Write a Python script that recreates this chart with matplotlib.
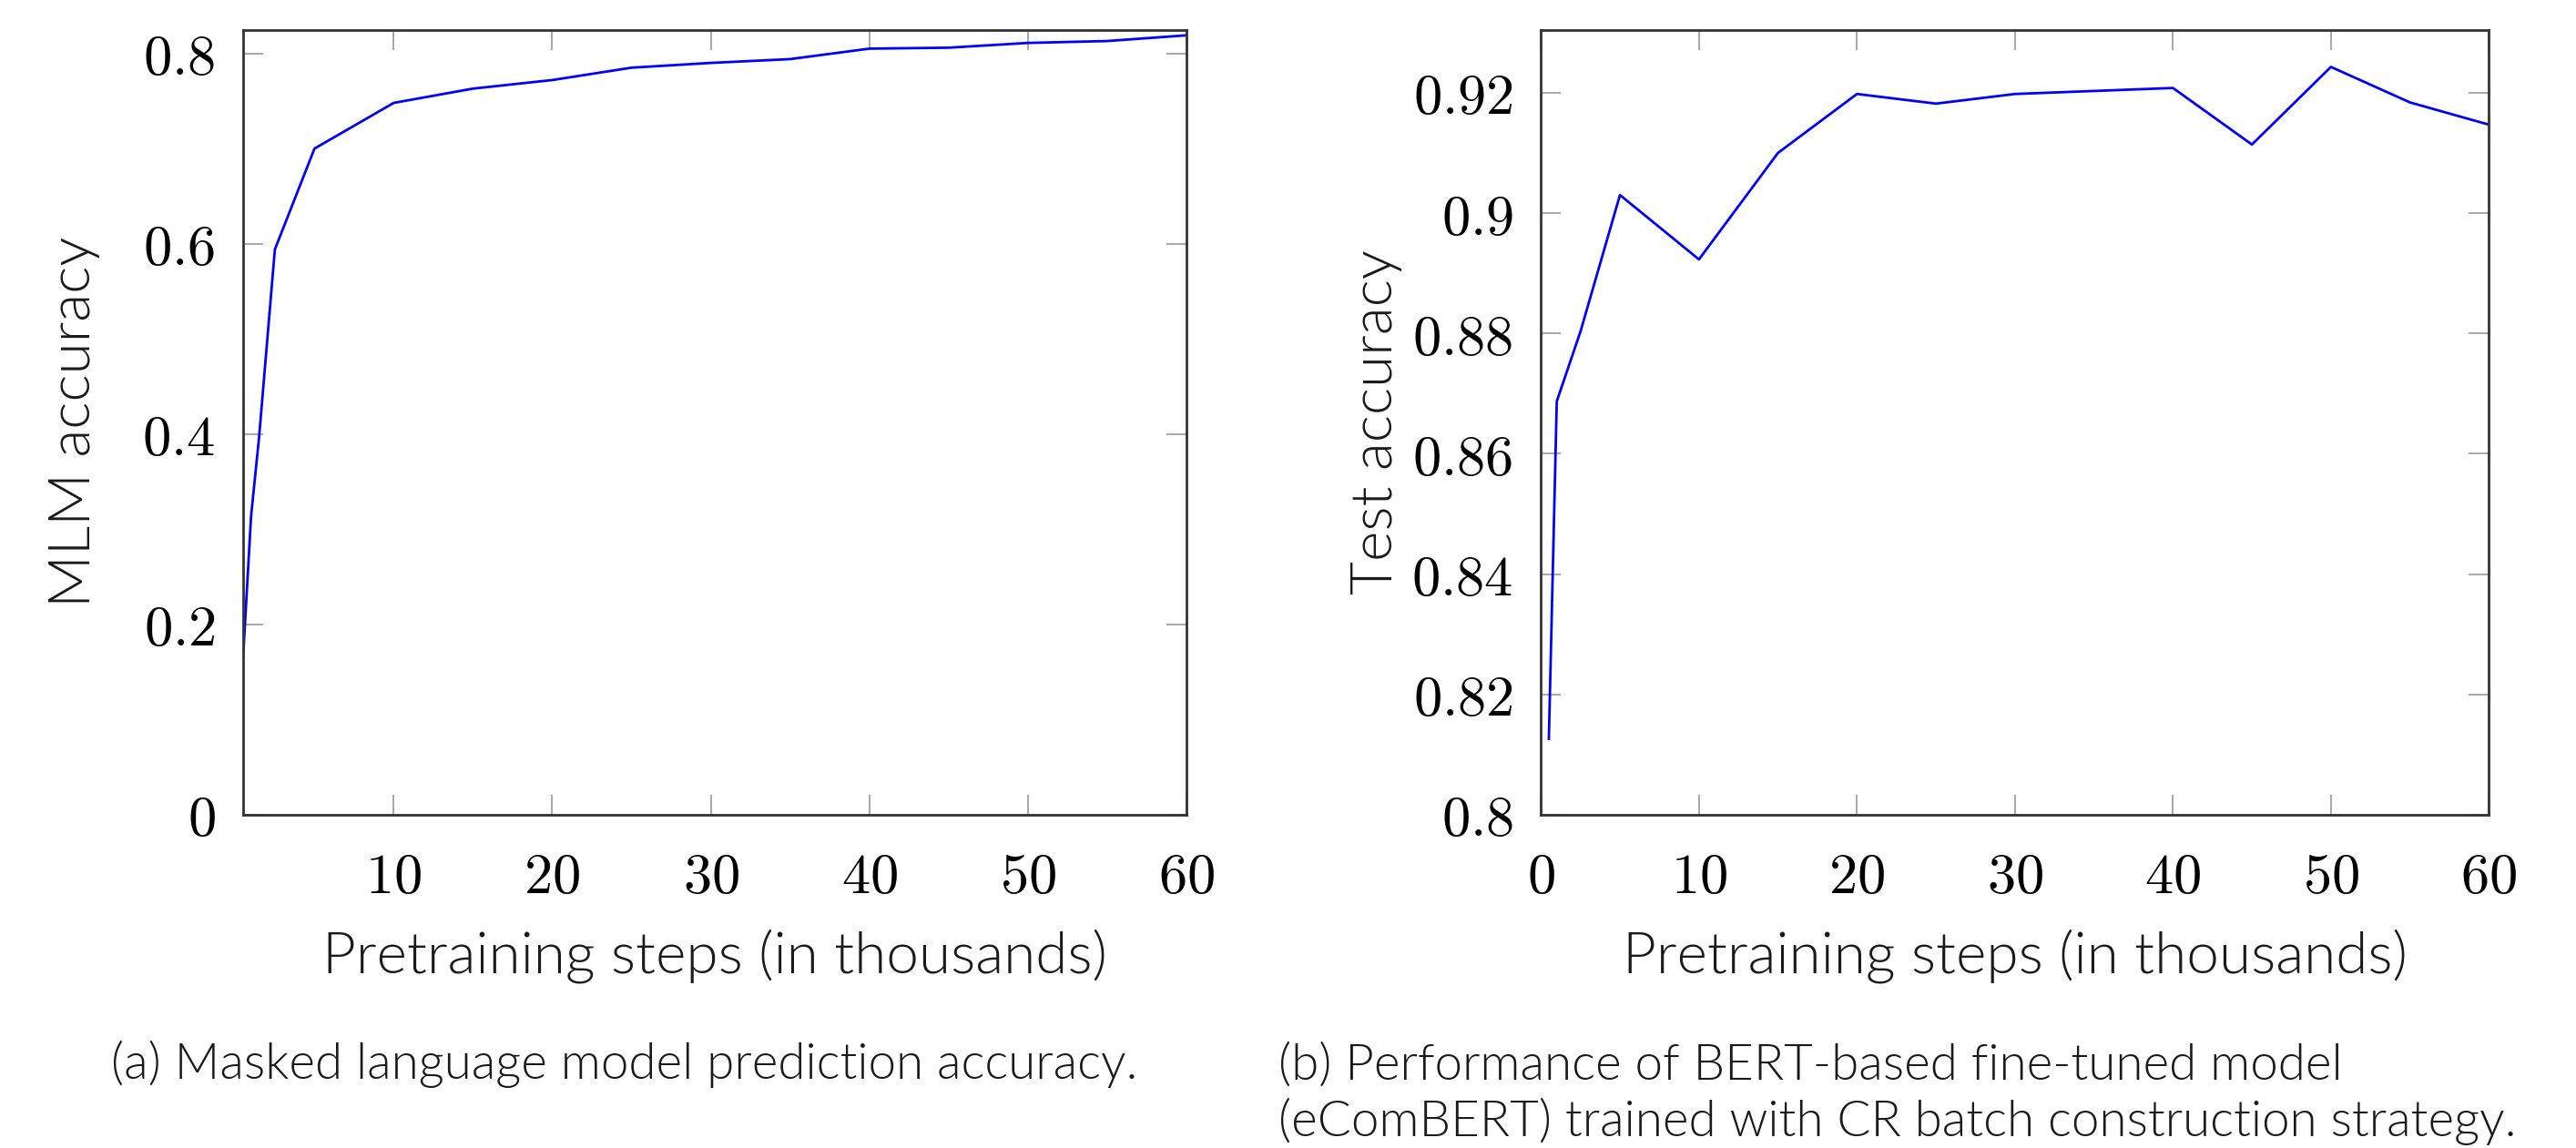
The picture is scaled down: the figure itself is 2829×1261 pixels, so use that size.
import matplotlib
matplotlib.use("Agg")
import matplotlib.pyplot as plt
from matplotlib.ticker import FuncFormatter

# pretraining steps (thousands) and accuracies
mlm_steps = [0.5, 1, 1.5, 2.5, 5, 10, 15, 20, 25, 30, 35, 40, 45, 50, 55, 60]
mlm_acc = [0.167, 0.314, 0.396, 0.594, 0.700, 0.748, 0.763, 0.772, 0.785, 0.790,
           0.794, 0.805, 0.806, 0.811, 0.813, 0.819]

ft_steps = [0.5, 1, 2.5, 5, 10, 15, 20, 25, 30, 35, 40, 45, 50, 55, 60]
ft_acc = [0.8126, 0.8687, 0.8803, 0.9030, 0.8923, 0.9100, 0.9198, 0.9182, 0.9198,
          0.9203, 0.9208, 0.9114, 0.9243, 0.9184, 0.9147]

mlm_xticks = [10, 20, 30, 40, 50, 60]
mlm_yticks = [0, 0.2, 0.4, 0.6, 0.8]
ft_xticks = [0, 10, 20, 30, 40, 50, 60]
ft_yticks = [0.8, 0.82, 0.84, 0.86, 0.88, 0.9, 0.92]

plt.rcParams['mathtext.fontset'] = 'cm'
label_font = dict(family='Lato', weight=300, color='#1a1a1a')


def tick_fmt(v, pos):
    return '$%s$' % ('%g' % round(v, 4))


def style_axes(ax, xticks, yticks):
    ax.set_xticks(xticks)
    ax.set_yticks(yticks)
    ax.xaxis.set_major_formatter(FuncFormatter(tick_fmt))
    ax.yaxis.set_major_formatter(FuncFormatter(tick_fmt))
    ax.tick_params(direction='in', length=8, width=0.6, color='#999999',
                   top=True, right=True, labelsize=22.5, pad=11)
    ax.tick_params(axis='x', pad=14)
    for sp in ax.spines.values():
        sp.set_color('#333333')
        sp.set_linewidth(1.0)


fig = plt.figure(figsize=(14.145, 6.305), dpi=200)
ax1 = fig.add_axes([0.0944, 0.2904, 0.3661, 0.6838])
ax2 = fig.add_axes([0.5982, 0.2904, 0.3680, 0.6838])

ax1.plot(mlm_steps, mlm_acc, color='#0000ff', linewidth=1.0)
ax1.set_xlim(0.5, 60)
ax1.set_ylim(0, 0.825)
style_axes(ax1, mlm_xticks, mlm_yticks)
ax1.set_xlabel('Pretraining steps (in thousands)', fontsize=23, **label_font)
ax1.set_ylabel('MLM accuracy', fontsize=23, **label_font)
ax1.xaxis.set_label_coords(0.5, -0.145)
ax1.yaxis.set_label_coords(-0.152, 0.5)

ax2.plot(ft_steps, ft_acc, color='#0000ff', linewidth=1.0)
ax2.set_xlim(0, 60)
ax2.set_ylim(0.8, 0.9305)
style_axes(ax2, ft_xticks, ft_yticks)
ax2.set_xlabel('Pretraining steps (in thousands)', fontsize=23, **label_font)
ax2.set_ylabel('Test accuracy', fontsize=23, **label_font)
ax2.xaxis.set_label_coords(0.5, -0.145)
ax2.yaxis.set_label_coords(-0.146, 0.5)

fig.text(0.2423, 0.073, '(a) Masked language model prediction accuracy.',
         ha='center', va='center', fontsize=19.7, **label_font)
fig.text(0.4962, 0.047,
         '(b) Performance of BERT-based fine-tuned model\n'
         '(eComBERT) trained with CR batch construction strategy.',
         ha='left', va='center', fontsize=19.7, linespacing=1.22, **label_font)

fig.savefig('out.png', dpi=200)
